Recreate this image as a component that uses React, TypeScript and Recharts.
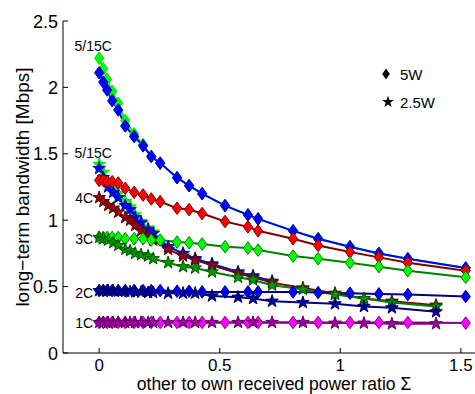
import React from 'react';
import { ComposedChart, Line, XAxis, YAxis, ReferenceDot, Legend } from 'recharts';

// Sigma (x) positions measured for the 5 W runs (diamonds) and the 2.5 W runs (stars)
const sigma5W = [0, 0.017, 0.033, 0.054, 0.079, 0.108, 0.145, 0.182, 0.216, 0.253, 0.323, 0.373, 0.427, 0.522, 0.617, 0.659, 0.804, 0.908, 1.04, 1.16, 1.28, 1.52];
const sigma25W = [0, 0.017, 0.037, 0.058, 0.079, 0.108, 0.128, 0.149, 0.174, 0.203, 0.224, 0.286, 0.348, 0.398, 0.468, 0.576, 0.638, 0.717, 0.845, 0.978, 1.098, 1.214, 1.397];

// 5 W, long-term bandwidth [Mbps]
const bw5W_15C = [2.11, 2.04, 1.98, 1.9, 1.83, 1.71, 1.63, 1.56, 1.48, 1.43, 1.32, 1.26, 1.2, 1.11, 1.04, 1.01, 0.92, 0.86, 0.8, 0.75, 0.71, 0.64];
const bw5W_5C = [2.22, 2.14, 2.06, 1.97, 1.88, 1.75, 1.65, 1.57, 1.48, 1.43, 1.32, 1.26, 1.2, 1.11, 1.04, 1.01, 0.92, 0.86, 0.8, 0.75, 0.71, 0.64];
const bw5W_4C = [1.3, 1.3, 1.29, 1.29, 1.28, 1.24, 1.21, 1.19, 1.16, 1.14, 1.09, 1.08, 1.05, 0.99, 0.95, 0.92, 0.86, 0.81, 0.76, 0.72, 0.68, 0.62];
const bw5W_3C = [0.87, 0.87, 0.87, 0.87, 0.87, 0.86, 0.86, 0.86, 0.85, 0.85, 0.835, 0.83, 0.82, 0.8, 0.79, 0.775, 0.73, 0.71, 0.68, 0.65, 0.62, 0.57];
const bw5W_2C = [0.47, 0.47, 0.47, 0.47, 0.47, 0.47, 0.47, 0.47, 0.47, 0.47, 0.465, 0.465, 0.46, 0.46, 0.46, 0.46, 0.46, 0.455, 0.45, 0.445, 0.44, 0.425];
const bw5W_1C = [0.23, 0.23, 0.23, 0.23, 0.23, 0.23, 0.23, 0.23, 0.23, 0.23, 0.23, 0.23, 0.23, 0.23, 0.23, 0.23, 0.23, 0.23, 0.23, 0.23, 0.23, 0.225];

// 2.5 W, long-term bandwidth [Mbps]
const bw25W_15C = [1.39, 1.32, 1.25, 1.21, 1.17, 1.11, 1.08, 1.02, 0.98, 0.93, 0.9, 0.8, 0.75, 0.71, 0.67, 0.61, 0.58, 0.54];
const bw25W_5C = [1.42, 1.36, 1.29, 1.24, 1.2, 1.14, 1.1, 1.04, 0.99, 0.94, 0.91, 0.8, 0.75, 0.71, 0.67, 0.61, 0.58, 0.54];
const bw25W_4C = [1.17, 1.14, 1.11, 1.09, 1.06, 1.02, 1.0, 0.96, 0.92, 0.88, 0.85, 0.78, 0.73, 0.7, 0.66, 0.6, 0.57, 0.53, 0.49, 0.45, 0.41, 0.39, 0.36];
const bw25W_3C = [0.87, 0.86, 0.85, 0.83, 0.81, 0.78, 0.77, 0.75, 0.74, 0.73, 0.71, 0.68, 0.65, 0.64, 0.61, 0.57, 0.55, 0.51, 0.48, 0.44, 0.41, 0.38, 0.35];
const bw25W_2C = [0.47, 0.47, 0.47, 0.47, 0.465, 0.465, 0.46, 0.46, 0.46, 0.455, 0.455, 0.45, 0.45, 0.45, 0.43, 0.42, 0.41, 0.39, 0.38, 0.37, 0.35, 0.34, 0.31];
const bw25W_1C = [0.23, 0.23, 0.23, 0.23, 0.23, 0.23, 0.23, 0.23, 0.23, 0.23, 0.23, 0.23, 0.23, 0.23, 0.23, 0.23, 0.23, 0.23, 0.23, 0.225, 0.225, 0.22, 0.22];

const xTicks = [0, 0.5, 1, 1.5];
const yTicks = [0, 0.5, 1, 1.5, 2, 2.5];
const legendLabels = ['5W', '2.5W'];
const xLabel = 'other to own received power ratio \u03A3';
const yLabel = 'long\u2212term bandwidth [Mbps]';

const FONT = '"Liberation Sans", Arial, Helvetica, sans-serif';

const toPoints = (xs: number[], ys: number[]) => ys.map((y, i) => ({ x: xs[i], y }));

const diamondPts = (cx: number, cy: number, w = 4.6, h = 6.3) =>
  `${cx},${cy - h} ${cx + w},${cy} ${cx},${cy + h} ${cx - w},${cy}`;

const starPts = (cx: number, cy: number, R = 6.6, r = 2.6) => {
  const pts: string[] = [];
  for (let i = 0; i < 10; i++) {
    const a = (-90 + i * 36) * Math.PI / 180;
    const rad = i % 2 === 0 ? R : r;
    pts.push(`${(cx + rad * Math.cos(a)).toFixed(2)},${(cy + rad * Math.sin(a)).toFixed(2)}`);
  }
  return pts.join(' ');
};

type Series = { id: string; xs: number[]; ys: number[]; marker: 'd' | 's'; line: string; fill: string; edge: string };

const series: Series[] = [
  { id: 'd5C', xs: sigma5W, ys: bw5W_5C, marker: 'd', line: '#00FF00', fill: '#00FF00', edge: '#00DD00' },
  { id: 'd15C', xs: sigma5W, ys: bw5W_15C, marker: 'd', line: '#0000FF', fill: '#0000FF', edge: '#0000C8' },
  { id: 's5C', xs: sigma25W, ys: bw25W_5C, marker: 's', line: '#00FF00', fill: '#00FF00', edge: '#00DD00' },
  { id: 's15C', xs: sigma25W, ys: bw25W_15C, marker: 's', line: '#0000FF', fill: '#0000FF', edge: '#0000C8' },
  { id: 'd4C', xs: sigma5W, ys: bw5W_4C, marker: 'd', line: '#800000', fill: '#FF0000', edge: '#800000' },
  { id: 's4C', xs: sigma25W, ys: bw25W_4C, marker: 's', line: '#800000', fill: '#990000', edge: '#600000' },
  { id: 'd3C', xs: sigma5W, ys: bw5W_3C, marker: 'd', line: '#008000', fill: '#00FF00', edge: '#008000' },
  { id: 's3C', xs: sigma25W, ys: bw25W_3C, marker: 's', line: '#008000', fill: '#009900', edge: '#005500' },
  { id: 'd2C', xs: sigma5W, ys: bw5W_2C, marker: 'd', line: '#000080', fill: '#0000FF', edge: '#000080' },
  { id: 's2C', xs: sigma25W, ys: bw25W_2C, marker: 's', line: '#000080', fill: '#0000A0', edge: '#000060' },
  { id: 'd1C', xs: sigma5W, ys: bw5W_1C, marker: 'd', line: '#800080', fill: '#FF00FF', edge: '#800080' },
  { id: 's1C', xs: sigma25W, ys: bw25W_1C, marker: 's', line: '#800080', fill: '#A000A0', edge: '#600060' },
];

const annotations = [
  { text: '5/15C', x: sigma5W[0], y: bw5W_5C[0], anchor: 'middle', dx: -6, dy: -7 },
  { text: '5/15C', x: sigma25W[0], y: bw25W_5C[0], anchor: 'middle', dx: -6, dy: -6 },
  { text: '4C', x: sigma25W[0], y: bw25W_4C[0], anchor: 'end', dx: -6, dy: 5 },
  { text: '3C', x: sigma5W[0], y: bw5W_3C[0], anchor: 'end', dx: -6, dy: 7 },
  { text: '2C', x: sigma5W[0], y: bw5W_2C[0], anchor: 'end', dx: -6, dy: 7 },
  { text: '1C', x: sigma5W[0], y: bw5W_1C[0], anchor: 'end', dx: -6, dy: 6 },
];

const XTick = (props: any) => {
  const { x, y, payload } = props;
  return (
    <g>
      <line x1={x} x2={x} y1={y} y2={y - 5} stroke="#000" strokeWidth={1} />
      <text x={x} y={y + 18} textAnchor="middle" fontSize={17} fontFamily={FONT} fill="#000">{String(payload.value)}</text>
    </g>
  );
};

const YTick = (props: any) => {
  const { x, y, payload } = props;
  return (
    <g>
      <line x1={x} x2={x + 5} y1={y} y2={y} stroke="#000" strokeWidth={1} />
      <text x={x - 5} y={y + 6.5} textAnchor="end" fontSize={18} fontFamily={FONT} fill="#000">{String(payload.value)}</text>
    </g>
  );
};

const YAxisLabel = (props: any) => {
  const vb = props.viewBox && props.viewBox.height ? props.viewBox : { x: 0, y: 21, width: 63, height: 332 };
  return (
    <text transform={`translate(${vb.x + 29}, ${vb.y + vb.height / 2}) rotate(-90)`} textAnchor="middle" fontSize={19} fontFamily={FONT} fill="#000">{yLabel}</text>
  );
};

const XAxisLabel = (props: any) => {
  const vb = props.viewBox && props.viewBox.width ? props.viewBox : { x: 63, y: 353, width: 422, height: 41 };
  return (
    <text x={vb.x + vb.width / 2} y={vb.y + 37.2} textAnchor="middle" fontSize={17.5} fontFamily={FONT} fill="#000">{xLabel}</text>
  );
};

const LegendBox = () => (
  <svg width={100} height={60} style={{ overflow: 'visible' }}>
    <polygon points={diamondPts(11, 14, 3.8, 5.6)} fill="#000" />
    <text x={25} y={19.5} fontSize={15} fontFamily={FONT} fill="#000">{legendLabels[0]}</text>
    <polygon points={starPts(13, 42, 6.2, 2.4)} fill="#000" />
    <text x={25} y={47.5} fontSize={15} fontFamily={FONT} fill="#000">{legendLabels[1]}</text>
  </svg>
);

export default function App() {
  return (
    <div style={{ position: 'absolute', left: 0, top: 0, width: 475, height: 394, overflow: 'hidden', background: '#fff' }}>
      <ComposedChart width={485} height={394} margin={{ top: 21, right: 0, bottom: 0, left: 0 }}>
        <XAxis
          dataKey="x"
          type="number"
          domain={[-0.15, 1.6]}
          allowDataOverflow
          ticks={xTicks}
          height={41}
          tickSize={0}
          tickMargin={0}
          tickLine={false}
          axisLine={{ stroke: '#000', strokeWidth: 1 }}
          tick={<XTick />}
          interval={0}
          label={<XAxisLabel />}
        />
        <YAxis
          type="number"
          domain={[0, 2.5]}
          allowDataOverflow
          ticks={yTicks}
          width={63}
          tickSize={0}
          tickMargin={0}
          tickLine={false}
          axisLine={{ stroke: '#000', strokeWidth: 1 }}
          tick={<YTick />}
          interval={0}
          label={<YAxisLabel />}
        />
        {series.map((s) => (
          <Line
            key={s.id}
            data={toPoints(s.xs, s.ys)}
            dataKey="y"
            type="linear"
            stroke={s.line}
            strokeWidth={2}
            isAnimationActive={false}
            activeDot={false}
            dot={(p: any) => {
              if (p.cx == null || p.cy == null) return <g key={`${s.id}-${p.index}`} />;
              return (
                <polygon
                  key={`${s.id}-${p.index}`}
                  points={s.marker === 'd' ? diamondPts(p.cx, p.cy) : starPts(p.cx, p.cy)}
                  fill={s.fill}
                  stroke={s.edge}
                  strokeWidth={1}
                />
              );
            }}
          />
        ))}
        {annotations.map((a, i) => (
          <ReferenceDot
            key={`ann-${i}`}
            x={a.x}
            y={a.y}
            r={0}
            ifOverflow="visible"
            shape={(p: any) => (
              <text x={p.cx + a.dx} y={p.cy + a.dy} textAnchor={a.anchor as any} fontSize={14} fontFamily={FONT} fill="#000">{a.text}</text>
            )}
          />
        ))}
        <Legend
          layout="vertical"
          align="center"
          verticalAlign="middle"
          wrapperStyle={{ left: 375, top: 60, width: 100, height: 60 }}
          content={<LegendBox />}
        />
      </ComposedChart>
    </div>
  );
}
